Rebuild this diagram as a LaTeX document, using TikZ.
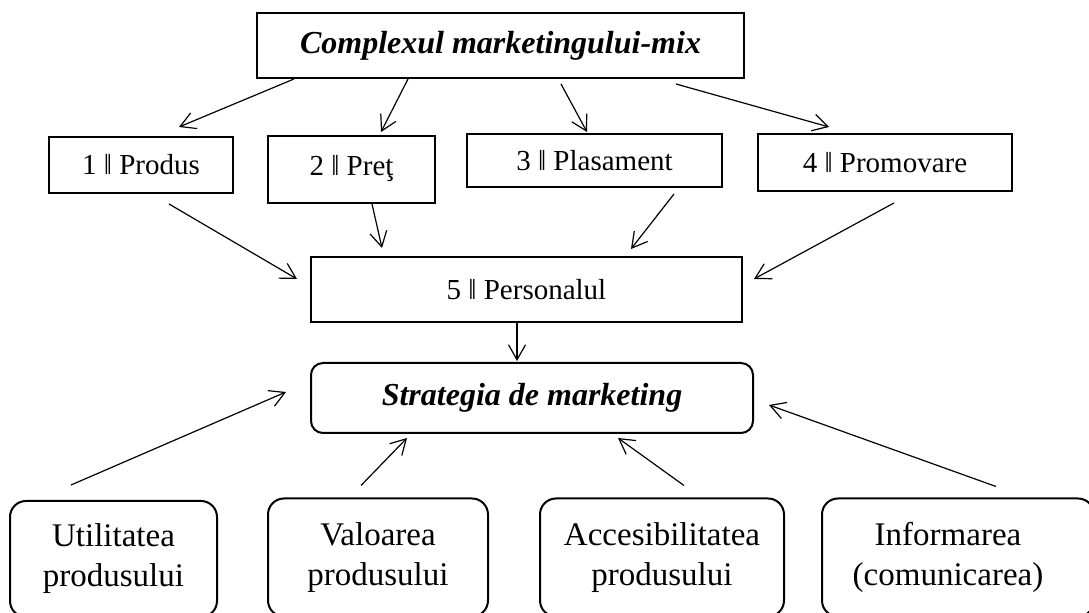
\documentclass[tikz,border=0pt]{standalone}
\usepackage{fontspec}
\setmainfont{Liberation Serif}
\usetikzlibrary{arrows.meta,calc}
\begin{document}
\begin{tikzpicture}[x=0.5pt,y=-0.5pt,
  box/.style={draw,line width=1pt,inner sep=0pt,minimum width=#1},
  rbox/.style={draw,line width=1pt,rounded corners=6pt,inner sep=0pt,minimum width=#1},
  bbox/.style={draw,line width=1pt,rounded corners=8pt,inner sep=0pt,minimum width=#1},
  rowtext/.style={font=\fontsize{14.5}{17}\selectfont},
  bottext/.style={font=\fontsize{16.5}{20}\selectfont,align=center},
  arr/.style={line width=0.6pt,-{Straight Barb[length=7.5pt,width=8.5pt,line width=0.6pt]}}]
\useasboundingbox (0,0) rectangle (1089,613);
\clip (0,0) rectangle (1089,613);
% top
\node[box=243.5pt,minimum height=32.5pt,font=\fontsize{16}{19}\selectfont\bfseries\itshape] (top) at (500.5,45.5) {Complexul marketingului-mix};
% row 1
\node[box=92pt,minimum height=28pt,rowtext] (p1) at (141,165) {1 ǁ Produs};
\node[box=83.5pt,minimum height=33.5pt,rowtext] (p2) at (351.5,169.5) {};
\node[rowtext,anchor=base,inner sep=0pt] (p2t) at (351.5,176) {2 ǁ Preţ};
\node[box=127.5pt,minimum height=26.5pt,rowtext] (p3) at (594.5,160.5) {3 ǁ Plasament};
\node[box=127pt,minimum height=28.5pt,rowtext] (p4) at (885,162.5) {4 ǁ Promovare};
% personal
\node[box=215.5pt,minimum height=32.5pt,rowtext] (p5) at (526.5,289.5) {5 ǁ Personalul};
% strategia
\node[rbox=221pt,minimum height=35pt,font=\fontsize{16}{19}\selectfont\bfseries\itshape] (strat) at (532,398) {Strategia de marketing};
% bottom
\node[bbox=103.5pt,minimum height=58pt,bottext] (b1) at (113.5,559) {Utilitatea\\produsului};
\node[bbox=110pt,minimum height=59pt,bottext] (b2) at (378,557.5) {Valoarea\\produsului};
\node[bbox=122pt,minimum height=59pt,bottext] (b3) at (662,557.5) {Accesibilitatea\\produsului};
\node[bbox=136pt,minimum height=59pt] (b4) at (958,557.5) {};
\node[bottext] (b4t) at (948,557.5) {Informarea\\(comunicarea)};
% arrows from top
\draw[arr] ($(top.south west)+(38,0)$) -- ($(p1.north west)+(131,-9)$);
\draw[arr] ($(top.south west)+(152,0)$) -- ($(p2.north west)+(114,-3)$);
\draw[arr] ($(top.south west)+(305,5)$) -- ($(p3.north west)+(121,-1)$);
\draw[arr] ($(top.south east)+(-69,5)$) -- ($(p4.north west)+(72,-6)$);
% arrows to personal
\draw[arr] ($(p1.south west)+(121,10)$) -- ($(p5.west)+(-13,-10.5)$);
\draw[arr] ($(p2.south west)+(105,0)$) -- ($(p5.north west)+(72,-8)$);
\draw[arr] ($(p3.south west)+(208,6)$) -- ($(p5.north east)+(-112,-7)$);
\draw[arr] ($(p4.south west)+(137,11)$) -- ($(p5.east)+(11,-10.5)$);
% personal to strategia
\draw[arr] ($(p5.south west)+(207,0)$) -- ($(strat.north west)+(207,-1)$);
% bottom to strategia
\draw[arr] ($(b1.north west)+(62,-15)$) -- ($(strat.west)+(-24,-6)$);
\draw[arr] ($(b2.north west)+(94,-12)$) -- ($(strat.south west)+(97,4)$);
\draw[arr] ($(b3.north west)+(145,-12)$) -- ($(strat.south west)+(308,4)$);
\draw[arr] ($(b4.north west)+(175,-11)$) -- ($(strat.east)+(15,7)$);
\end{tikzpicture}
\end{document}
